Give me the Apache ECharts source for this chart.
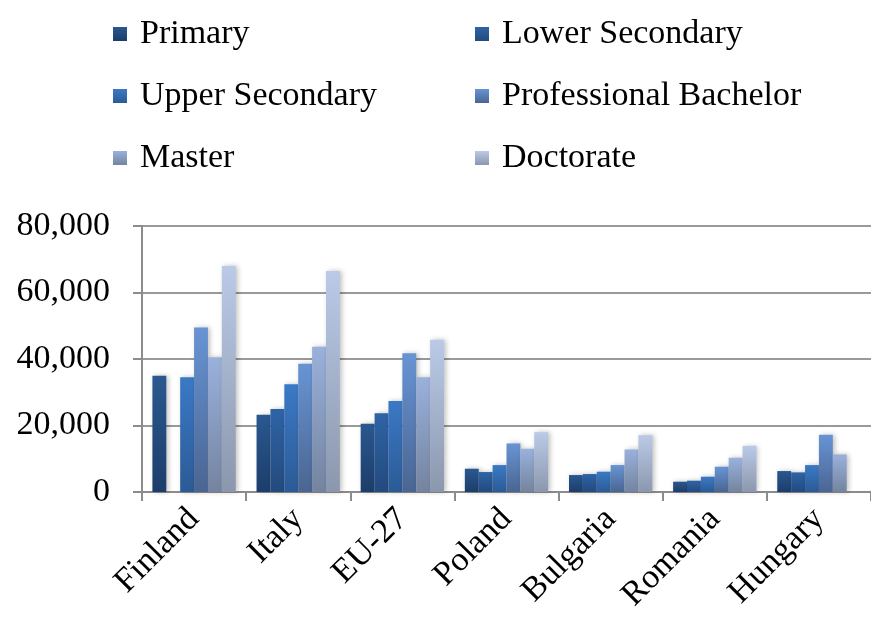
<!DOCTYPE html>
<html>
<head>
<meta charset="utf-8">
<script src="https://cdn.jsdelivr.net/npm/echarts@6/dist/echarts.min.js"></script>
<style>
  html, body { margin: 0; padding: 0; background: #fff; }
  #chart { width: 871px; height: 626px; }
</style>
</head>
<body>
<div id="chart"></div>
<script>
// countries on the x axis
const countries = ['Finland', 'Italy', 'EU-27', 'Poland', 'Bulgaria', 'Romania', 'Hungary']

// values per education level (null = no bar)
const primary = [35000, 23200, 20500, 7000, 5100, 3100, 6300]
const lowerSecondary = [null, 25000, 23700, 6000, 5400, 3400, 5900]
const upperSecondary = [34500, 32400, 27400, 8100, 6100, 4600, 8100]
const professionalBachelor = [49500, 38600, 41700, 14600, 8100, 7600, 17200]
const master = [40500, 43700, 34500, 13000, 12800, 10300, 11300]
const doctorate = [68000, 66500, 45800, 18000, 17100, 13900, null]

const yTicks = [0, 20000, 40000, 60000, 80000]

const serif = '"Liberation Serif", "Times New Roman", serif'

// top / bottom gradient colours per level
const levels = [
  { name: 'Primary', data: primary, top: '#2a5890', bottom: '#1c3d6a' },
  { name: 'Lower Secondary', data: lowerSecondary, top: '#2e64a6', bottom: '#234a7e' },
  { name: 'Upper Secondary', data: upperSecondary, top: '#3b79c6', bottom: '#2b5b96' },
  { name: 'Professional Bachelor', data: professionalBachelor, top: '#6894d4', bottom: '#4a6592' },
  { name: 'Master', data: master, top: '#9ab1dc', bottom: '#74849f' },
  { name: 'Doctorate', data: doctorate, top: '#bacae7', bottom: '#8b97ad' }
]

const chart = echarts.init(document.getElementById('chart'))

const grad = (l) => new echarts.graphic.LinearGradient(0, 0, 0, 1, [
  { offset: 0, color: l.top },
  { offset: 1, color: l.bottom }
])

const legendCommon = {
  orient: 'vertical',
  top: 16,
  padding: 0,
  itemWidth: 14,
  itemHeight: 14,
  itemGap: 26,
  icon: 'rect',
  textStyle: {
    fontFamily: serif,
    fontSize: 34,
    color: '#000',
    lineHeight: 36,
    padding: [0, 0, 0, 8]
  }
}

const option = {
  animation: false,
  backgroundColor: '#fff',
  legend: [
    Object.assign({}, legendCommon, { left: 113, data: ['Primary', 'Upper Secondary', 'Master'] }),
    Object.assign({}, legendCommon, { left: 475, data: ['Lower Secondary', 'Professional Bachelor', 'Doctorate'] })
  ],
  grid: {
    left: 142, top: 226, bottom: 134, width: 735,
    containLabel: false
  },
  xAxis: {
    type: 'category',
    data: countries,
    axisLine: { lineStyle: { color: '#8c8c8c', width: 2 } },
    axisTick: { show: true, length: 9, lineStyle: { color: '#8c8c8c', width: 2 } },
    axisLabel: {
      rotate: 45,
      margin: 22,
      fontFamily: serif,
      fontSize: 34,
      color: '#000'
    }
  },
  yAxis: {
    type: 'value',
    min: yTicks[0],
    max: yTicks[yTicks.length - 1],
    interval: 20000,
    axisLine: { show: true, lineStyle: { color: '#8c8c8c', width: 2 } },
    axisTick: { show: true, inside: false, length: 9, lineStyle: { color: '#8c8c8c', width: 2 } },
    splitLine: { lineStyle: { color: '#999', width: 2 } },
    axisLabel: {
      margin: 32,
      fontFamily: serif,
      fontSize: 34,
      color: '#000',
      formatter: (v) => v.toLocaleString('en-US')
    }
  },
  series: levels.map(l => ({
    name: l.name,
    type: 'bar',
    data: l.data,
    barGap: '0%',
    barCategoryGap: '20%',
    itemStyle: {
      color: grad(l),
      shadowBlur: 5,
      shadowColor: 'rgba(0,0,0,0.25)',
      shadowOffsetX: 2
    }
  }))
}

chart.setOption(option)
</script>
</body>
</html>
